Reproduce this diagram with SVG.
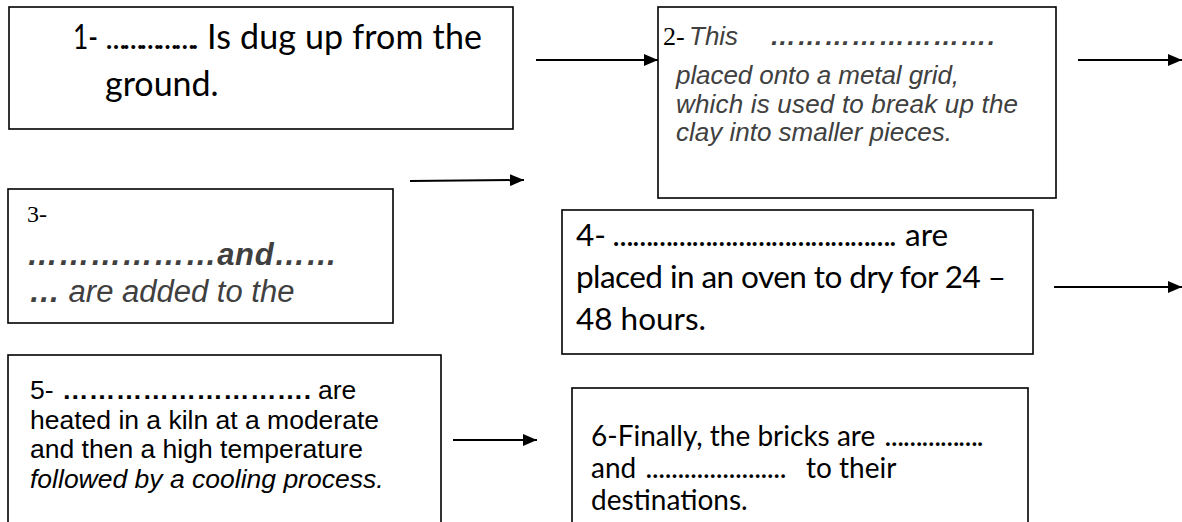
<svg xmlns="http://www.w3.org/2000/svg" width="1182" height="522" viewBox="0 0 1182 522">
<style>
.box{fill:#fff;stroke:#000;stroke-width:1.6}
.cal{font-family:Lato,"Open Sans",sans-serif;fill:#000}
.ari{font-family:"Liberation Sans",Arial,sans-serif;fill:#000}
.gi{font-family:"Liberation Sans",Arial,sans-serif;font-style:italic;fill:#404040}
.tim{font-family:"Liberation Serif","Times New Roman",serif;fill:#000}
.b{font-weight:bold}
.it{font-style:italic}
.conn line{stroke:#000;stroke-width:2}
</style>
<defs>
<marker id="ah" viewBox="0 0 14 12" refX="14" refY="6" markerWidth="14" markerHeight="12" orient="auto" markerUnits="userSpaceOnUse">
<path d="M0,0 L14,6 L0,12 z" fill="#000"/>
</marker>
</defs>
<rect width="1182" height="522" fill="#fff"/>
<g id="node1" class="cal" font-size="34">
<rect class="box" x="9" y="7" width="504" height="122"/>
<text x="73" y="49" textLength="25" lengthAdjust="spacingAndGlyphs">1-</text>
<text x="106" y="49" class="b" font-size="26" textLength="92" lengthAdjust="spacing">&#8230;&#8230;&#8230;&#8230;&#8230;.</text>
<text x="207" y="49" textLength="275" lengthAdjust="spacing">Is dug up from the</text>
<text x="105" y="96">ground.</text>
</g>
<g id="node2" class="gi" font-size="26">
<rect class="box" x="658" y="7" width="398" height="191"/>
<text x="663" y="45" class="tim" font-style="normal">2-</text>
<text x="689" y="45">This</text>
<text x="770" y="45" class="b" textLength="225" lengthAdjust="spacing">&#8230;&#8230;&#8230;&#8230;&#8230;&#8230;&#8230;&#8230;.</text>
<text x="676" y="84" textLength="283" lengthAdjust="spacing">placed onto a metal grid,</text>
<text x="676" y="113" textLength="342" lengthAdjust="spacing">which is used to break up the</text>
<text x="676" y="141">clay into smaller pieces.</text>
</g>
<g id="node3" class="gi" font-size="31">
<rect class="box" x="8" y="189" width="385" height="134"/>
<text x="27" y="222" class="tim" font-style="normal" font-size="24">3-</text>
<text x="27" y="265" class="b" textLength="310" lengthAdjust="spacing">&#8230;&#8230;&#8230;&#8230;&#8230;&#8230;and&#8230;&#8230;</text>
<text x="29" y="302"><tspan class="b">&#8230;</tspan> are added to the</text>
</g>
<g id="node4" class="cal" font-size="31.5">
<rect class="box" x="562" y="210" width="471" height="144"/>
<text x="576" y="246">4-</text>
<text x="613" y="246" class="b" font-size="26" textLength="283" lengthAdjust="spacing">&#8230;&#8230;&#8230;&#8230;&#8230;&#8230;&#8230;&#8230;&#8230;&#8230;&#8230;&#8230;&#8230;&#8230;.</text>
<text x="905" y="246">are</text>
<text x="576" y="288" textLength="430" lengthAdjust="spacing">placed in an oven to dry for 24 –</text>
<text x="576" y="330">48 hours.</text>
</g>
<g id="node5" class="ari" font-size="26.5">
<rect class="box" x="8" y="355" width="433" height="180"/>
<text x="30" y="399">5-</text>
<text x="62" y="399" class="b" textLength="249" lengthAdjust="spacing">&#8230;&#8230;&#8230;&#8230;&#8230;&#8230;&#8230;&#8230;&#8230;.</text>
<text x="318" y="399">are</text>
<text x="30" y="429" textLength="349" lengthAdjust="spacing">heated in a kiln at a moderate</text>
<text x="30" y="458">and then a high temperature</text>
<text x="30" y="488" class="it">followed by a cooling process.</text>
</g>
<g id="node6" class="cal" font-size="28">
<rect class="box" x="572" y="388" width="456" height="150"/>
<text x="591" y="446">6-Finally, the bricks are</text>
<text x="885" y="446" class="b" font-size="24" textLength="98" lengthAdjust="spacing">&#8230;&#8230;&#8230;&#8230;&#8230;.</text>
<text x="591" y="478">and</text>
<text x="646" y="478" class="b" font-size="24" textLength="140" lengthAdjust="spacing">&#8230;&#8230;&#8230;&#8230;&#8230;&#8230;&#8230;.</text>
<text x="806" y="478">to their</text>
<text x="591" y="510">destinations.</text>
</g>
<g id="connectors" class="conn">
<line x1="536" y1="60" x2="658" y2="60" marker-end="url(#ah)"/>
<line x1="1078" y1="60" x2="1182" y2="60" marker-end="url(#ah)"/>
<line x1="410" y1="181" x2="524" y2="180" marker-end="url(#ah)"/>
<line x1="1054" y1="287" x2="1182" y2="287" marker-end="url(#ah)"/>
<line x1="453" y1="440" x2="537" y2="440" marker-end="url(#ah)"/>
</g>
</svg>
